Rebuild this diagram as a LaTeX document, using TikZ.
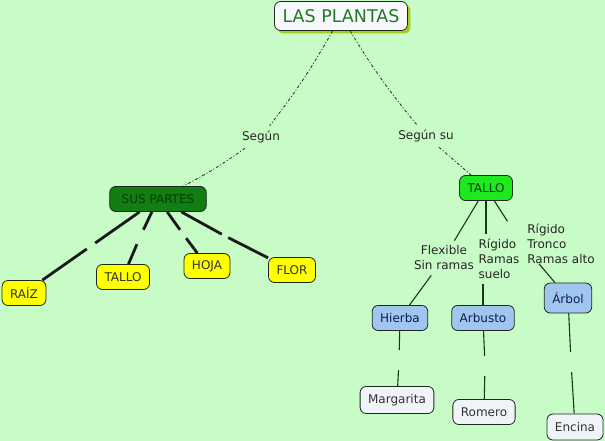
\documentclass[tikz,border=0pt]{standalone}
\usepackage{fontspec}
\setmainfont{DejaVu Sans}
\usetikzlibrary{shadows}

\definecolor{fondo}{RGB}{200,252,198}
\definecolor{borde}{RGB}{30,40,30}
\definecolor{sombra}{RGB}{166,204,30}
\definecolor{verdeosc}{RGB}{18,125,18}
\definecolor{verdecla}{RGB}{30,232,30}
\definecolor{amarillo}{RGB}{255,255,0}
\definecolor{azul}{RGB}{160,198,240}
\definecolor{blanco}{RGB}{240,244,248}
\definecolor{textoverde}{RGB}{36,120,36}
\definecolor{textoazul}{RGB}{12,30,80}
\definecolor{linea}{RGB}{24,56,24}

\begin{document}
\begin{tikzpicture}[x=1pt,y=-1pt,
    concepto/.style={draw=borde, line width=0.8pt, rounded corners=6pt,
        inner xsep=8pt, inner ysep=0pt, minimum height=25pt,
        font=\fontsize{12}{14}\selectfont, text=black!80},
    frase/.style={inner sep=5pt, font=\fontsize{12}{15}\selectfont, text=black!85},
    hueco/.style={inner sep=0pt, minimum size=#1},
    hueco/.default=8pt,
    enlace/.style={linea, line width=0.8pt, dash pattern=on 3pt off 2pt on 1pt off 2pt},
    parte/.style={black!90, line width=2.8pt},
    rama/.style={linea, line width=1.1pt}]

    \fill[fondo] (0,0) rectangle (605,441);
    \useasboundingbox (0,0) rectangle (605,441);

    % conceptos
    \node[concepto, fill=blanco!60!white, text=textoverde, minimum height=29pt,
        font=\fontsize{17.5}{20}\selectfont,
        drop shadow={shadow xshift=3pt, shadow yshift=-3pt, fill=sombra, opacity=1}]
        (plantas) at (341,16) {LAS PLANTAS};
    \node[concepto, fill=verdeosc, text=green!25!black, inner xsep=12pt] (partes) at (158,199) {SUS PARTES};
    \node[concepto, fill=verdecla, text=green!25!black] (tallo) at (486,188) {TALLO};

    \node[concepto, fill=amarillo] (raiz) at (24,293) {RAÍZ};
    \node[concepto, fill=amarillo] (tallop) at (123,277) {TALLO};
    \node[concepto, fill=amarillo] (hoja) at (207,266) {HOJA};
    \node[concepto, fill=amarillo] (flor) at (292,270) {FLOR};

    \node[concepto, fill=azul, text=textoazul] (hierba) at (400,318) {Hierba};
    \node[concepto, fill=azul, text=textoazul] (arbusto) at (483,318) {Arbusto};
    \node[concepto, fill=azul, text=textoazul, minimum height=30pt] (arbol) at (568,298) {Árbol};

    \node[concepto, fill=blanco, minimum height=27pt] (margarita) at (397,400) {Margarita};
    \node[concepto, fill=blanco] (romero) at (484,412) {Romero};
    \node[concepto, fill=blanco, minimum height=26pt] (encina) at (575,427) {Encina};

    % frases de enlace
    \node[frase] (segun) at (261,137) {Según};
    \node[frase] (segunsu) at (426,136) {Según su};
    \node[frase, align=center] (flexible) at (444,258) {Flexible\\Sin ramas};
    \node[frase, align=left] (suelo) at (499,259) {Rígido\\Ramas\\suelo};
    \node[frase, align=left] (tronco) at (561,244) {Rígido\\Tronco\\Ramas alto};

    \node[hueco] (h1) at (91,246) {};
    \node[hueco=14pt] (h2) at (140,237) {};
    \node[hueco] (h3) at (183,234) {};
    \node[hueco=6pt] (h4) at (225,236) {};
    \node[hueco=20pt] (h5) at (399,360) {};
    \node[hueco=20pt] (h6) at (485,366) {};
    \node[hueco=20pt] (h7) at (571,362) {};

    % conexiones
    \draw[enlace] (plantas) to[bend left=4] (segun); \draw[enlace] (segun) to[bend left=4] (partes);
    \draw[enlace] (plantas) to[bend right=4] (segunsu); \draw[enlace] (segunsu) -- (tallo);

    \draw[parte] (partes) -- (h1); \draw[parte] (h1) -- (raiz);
    \draw[parte] (partes) -- (h2); \draw[parte] (h2) -- (tallop);
    \draw[parte] (partes) -- (h3); \draw[parte] (h3) -- (hoja);
    \draw[parte] (partes) -- (h4); \draw[parte] (h4) -- (flor);

    \draw[rama] (tallo) -- (flexible); \draw[rama] (flexible) -- (hierba);
    \draw[rama] (tallo) -- (tallo |- suelo.north); \draw[rama] (suelo.south -| arbusto) -- (arbusto);
    \draw[rama, shorten >=27pt] (tallo) -- (tronco.west); \draw[rama, shorten <=26pt] (tronco.west) -- (arbol);

    \draw[rama] (hierba) -- (h5); \draw[rama] (h5) -- (margarita);
    \draw[rama] (arbusto) -- (h6); \draw[rama] (h6) -- (romero);
    \draw[rama] (arbol) -- (h7); \draw[rama] (h7) -- (encina);
\end{tikzpicture}
\end{document}
